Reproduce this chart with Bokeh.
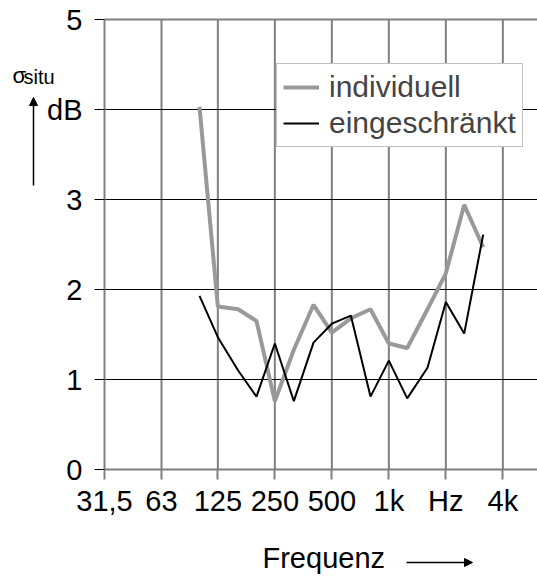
from bokeh.plotting import figure
from bokeh.models import (Range1d, FixedTicker, Label, Arrow, NormalHead, Legend, LegendItem)
from bokeh.embed import file_html
from bokeh.resources import INLINE

# third-octave band centre frequencies (Hz)
freqs = [100, 125, 160, 200, 250, 315, 400, 500, 630, 800, 1000, 1250, 1600, 2000, 2500, 3150]
individuell = [4.03, 1.81, 1.78, 1.65, 0.76, 1.33, 1.83, 1.52, 1.68, 1.78, 1.40, 1.35, 1.78, 2.18, 2.94, 2.47]
eingeschraenkt = [1.93, 1.47, 1.10, 0.81, 1.40, 0.76, 1.41, 1.62, 1.71, 0.81, 1.21, 0.79, 1.13, 1.86, 1.51, 2.61]

x_ticks = [31.5, 63, 125, 250, 500, 1000, 2000, 4000]
x_tick_labels = ["31,5", "63", "125", "250", "500", "1k", "Hz", "4k"]
y_ticks = [0, 1, 2, 3, 4, 5]
y_tick_labels = ["0", "1", "2", "3", "dB", "5"]
y_grid = [1, 2, 3, 4]
y_top = 5
y_title = ("σ", "situ")
x_title = "Frequenz"

FONT = "Liberation Sans"
FS = "29px"
GRAY = "#808080"
W, H = 537, 577

# pixel layout of the data area inside the canvas
L, B = 104, 469
PX_OCT, PX_DB = 57, 90
X0 = 31.5


def xd(px):  # canvas x pixel -> data (log frequency axis)
    return X0 * 2 ** ((px - L) / PX_OCT)


def yd(py):  # canvas y pixel (from top) -> data
    return (B - py) / PX_DB


def mid(baseline, size):  # screen y (from bottom) of a text's middle, given its baseline from top
    return H - (baseline - 0.3465 * size)


X_END = xd(W)

# the frame covers the whole canvas; axes are pinned at the data origin
p = figure(width=W, height=H, x_axis_type="log", title=None,
           x_range=Range1d(xd(0), X_END), y_range=Range1d(yd(H), yd(0)),
           output_backend="svg", toolbar_location=None,
           min_border_left=0, min_border_top=0, min_border_bottom=0, min_border_right=0)
p.outline_line_color = None
p.background_fill_color = "white"
p.border_fill_color = "white"
p.xgrid.visible = False
p.ygrid.visible = False

# axes
p.xaxis.fixed_location = 0
p.xaxis.bounds = (X0, X_END)
p.yaxis.fixed_location = X0
p.yaxis.bounds = (y_ticks[0], y_ticks[-1])
p.xaxis.ticker = FixedTicker(ticks=x_ticks)
p.xaxis.major_label_overrides = {t: l for t, l in zip(x_ticks, x_tick_labels)}
p.yaxis.ticker = FixedTicker(ticks=y_ticks)
p.yaxis.major_label_overrides = {t: l for t, l in zip(y_ticks, y_tick_labels)}
for ax in (p.xaxis, p.yaxis):
    ax.major_label_text_font = FONT
    ax.major_label_text_font_size = FS
    ax.major_label_text_color = "black"
    ax.minor_tick_line_color = None
    ax.major_tick_in = 0
    ax.major_tick_out = 10
    ax.axis_line_color = GRAY
    ax.axis_line_width = 2
p.xaxis.major_tick_line_color = GRAY
p.xaxis.major_tick_line_width = 2
p.yaxis.major_tick_line_color = "black"
p.yaxis.major_tick_line_width = 1
p.xaxis.major_label_standoff = 5
p.yaxis.major_label_standoff = 12

# grid lines, drawn from the tick arrays
p.segment(x0=x_ticks[1:], y0=[y_ticks[0]] * 7, x1=x_ticks[1:], y1=[y_top] * 7,
          line_color=GRAY, line_width=2)
p.segment(x0=[X0] * 4, y0=y_grid, x1=[X_END] * 4, y1=y_grid, line_color="black", line_width=1)
p.segment(x0=[X0], y0=[y_top], x1=[X_END], y1=[y_top], line_color=GRAY, line_width=2)

# series
r1 = p.line(freqs, individuell, line_color="#999999", line_width=4)
r2 = p.line(freqs, eingeschraenkt, line_color="black", line_width=2)

legend = Legend(items=[LegendItem(label="individuell", renderers=[r1]),
                       LegendItem(label="eingeschränkt", renderers=[r2])],
                location=(276, H - 147), margin=0, padding=6, spacing=2,
                glyph_width=36, label_standoff=10,
                label_text_font=FONT, label_text_font_size="30px",
                border_line_color=GRAY, border_line_width=1,
                background_fill_color="white", background_fill_alpha=1)
p.add_layout(legend)

# y title (sigma with "situ") and its upward arrow; screen units from the bottom-left
p.add_layout(Label(x=12, y=mid(83, 22), x_units="screen", y_units="screen", text=y_title[0],
                   text_font=FONT, text_font_size="22px", text_color="black",
                   text_baseline="middle"))
p.add_layout(Label(x=23, y=mid(83, 20), x_units="screen", y_units="screen", text=y_title[1],
                   text_font=FONT, text_font_size="20px", text_color="black",
                   text_baseline="middle"))
p.add_layout(Arrow(x_start=33, y_start=H - 185, x_end=33, y_end=H - 97,
                   start_units="screen", end_units="screen",
                   line_color="black", line_width=1.5,
                   end=NormalHead(size=8, fill_color="black", line_color="black", line_width=1)))

# x title and its arrow
p.add_layout(Label(x=262, y=mid(568, 29), x_units="screen", y_units="screen", text=x_title,
                   text_font=FONT, text_font_size=FS, text_color="black",
                   text_baseline="middle"))
p.add_layout(Arrow(x_start=406, y_start=H - 562, x_end=472, y_end=H - 562,
                   start_units="screen", end_units="screen",
                   line_color="black", line_width=1.5,
                   end=NormalHead(size=8, fill_color="black", line_color="black", line_width=1)))

open("out.html", "w").write(file_html(p, INLINE))
